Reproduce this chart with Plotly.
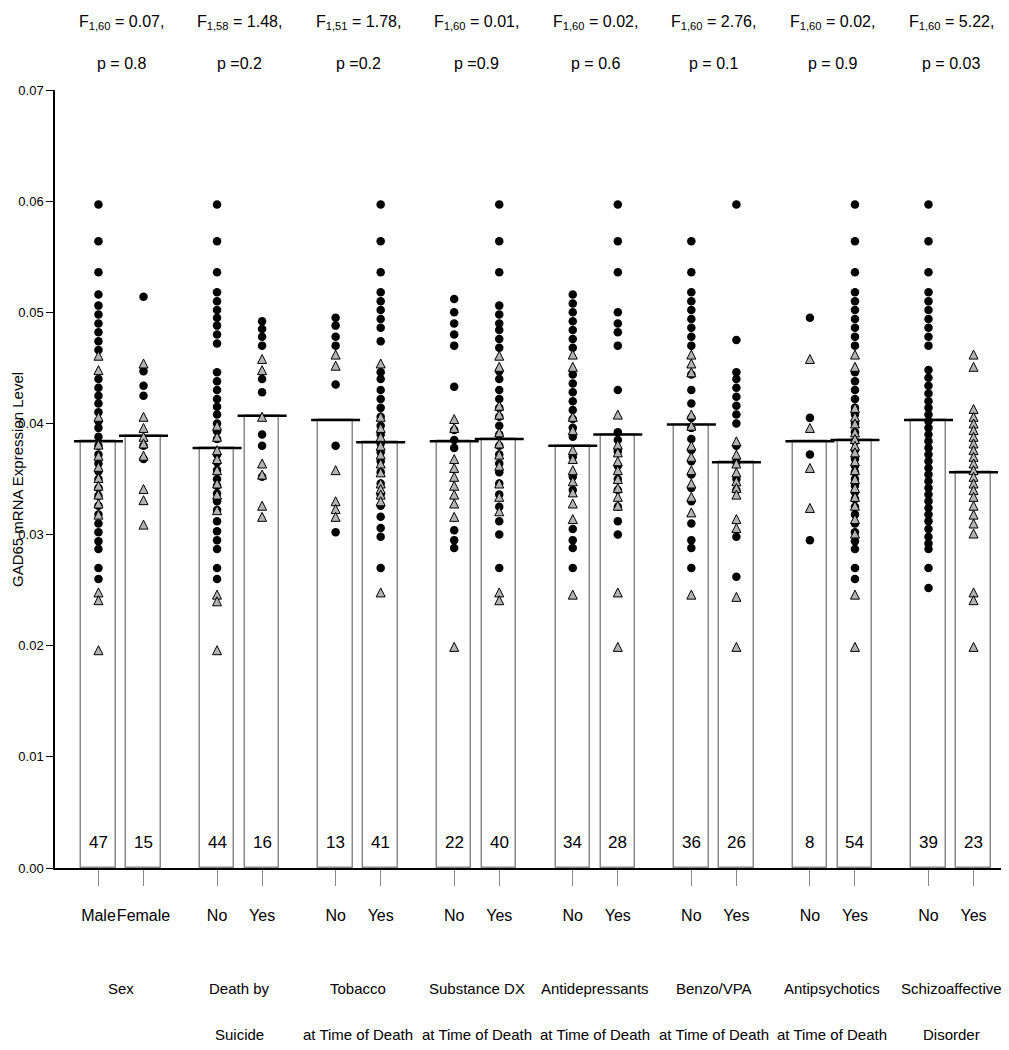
import plotly.graph_objects as go

# ---------------- data ----------------
group_titles = [("Sex", ""), ("Death by", "Suicide"), ("Tobacco", "at Time of Death"),
                ("Substance DX", "at Time of Death"), ("Antidepressants", "at Time of Death"),
                ("Benzo/VPA", "at Time of Death"), ("Antipsychotics", "at Time of Death"),
                ("Schizoaffective", "Disorder")]
level_labels = ["Male", "Female", "No", "Yes", "No", "Yes", "No", "Yes",
                "No", "Yes", "No", "Yes", "No", "Yes", "No", "Yes"]
f_labels = ["F<sub>1,60</sub> = 0.07,", "F<sub>1,58</sub> = 1.48,", "F<sub>1,51</sub> = 1.78,",
            "F<sub>1,60</sub> = 0.01,", "F<sub>1,60</sub> = 0.02,", "F<sub>1,60</sub> = 2.76,",
            "F<sub>1,60</sub> = 0.02,", "F<sub>1,60</sub> = 5.22,"]
p_labels = ["p = 0.8", "p =0.2", "p =0.2", "p =0.9", "p = 0.6", "p = 0.1", "p = 0.9", "p = 0.03"]
counts = [47, 15, 44, 16, 13, 41, 22, 40, 34, 28, 36, 26, 8, 54, 39, 23]
means = [0.0384, 0.0389, 0.0378, 0.0407, 0.0403, 0.0383, 0.0384, 0.0386,
         0.0380, 0.0390, 0.0399, 0.0365, 0.0384, 0.0385, 0.0403, 0.0356]

male_circ = [0.0597, 0.0564, 0.0536, 0.0516, 0.0506, 0.0498, 0.0490, 0.0482, 0.0474, 0.0466,
             0.0440, 0.0432, 0.0425, 0.0418, 0.0410, 0.0402, 0.0396, 0.0388, 0.0380, 0.0372,
             0.0364, 0.0357, 0.0350, 0.0342, 0.0335, 0.0326, 0.0318, 0.0310, 0.0302, 0.0294,
             0.0287, 0.0270, 0.0260]
male_tri = [0.0465, 0.0452, 0.0410, 0.0385, 0.0375, 0.0365, 0.0355, 0.0348, 0.0340, 0.0332,
            0.0322, 0.0252, 0.0245, 0.0200]
female_circ = [0.0514, 0.0447, 0.0434, 0.0425, 0.0380, 0.0368]
female_tri = [0.0458, 0.0410, 0.0400, 0.0392, 0.0386, 0.0375, 0.0345, 0.0335, 0.0313]

suicide_no_circ = [0.0597, 0.0564, 0.0536, 0.0518, 0.0510, 0.0502, 0.0495, 0.0488, 0.0480, 0.0472,
                   0.0446, 0.0438, 0.0430, 0.0422, 0.0415, 0.0408, 0.0400, 0.0393, 0.0386, 0.0372,
                   0.0365, 0.0358, 0.0350, 0.0344, 0.0337, 0.0330, 0.0322, 0.0312, 0.0303, 0.0295,
                   0.0287, 0.0270, 0.0260]
suicide_no_tri = [0.0402, 0.0392, 0.0380, 0.0372, 0.0362, 0.0350, 0.0340, 0.0326, 0.0250, 0.0244, 0.0200]
suicide_yes_circ = [0.0492, 0.0485, 0.0478, 0.0470, 0.0440, 0.0428, 0.0390, 0.0380, 0.0352]
suicide_yes_tri = [0.0462, 0.0452, 0.0410, 0.0368, 0.0358, 0.0330, 0.0320]

tob_no_circ = [0.0495, 0.0488, 0.0478, 0.0470, 0.0435, 0.0380, 0.0302]
tob_no_tri = [0.0466, 0.0456, 0.0362, 0.0334, 0.0327, 0.0320]
tob_yes_circ = [0.0597, 0.0564, 0.0536, 0.0518, 0.0510, 0.0502, 0.0494, 0.0486, 0.0474, 0.0446,
                0.0440, 0.0430, 0.0422, 0.0414, 0.0406, 0.0398, 0.0390, 0.0382, 0.0374, 0.0366,
                0.0356, 0.0346, 0.0336, 0.0326, 0.0316, 0.0306, 0.0298, 0.0270]
tob_yes_tri = [0.0458, 0.0410, 0.0400, 0.0392, 0.0384, 0.0376, 0.0368, 0.0360, 0.0350, 0.0345,
               0.0340, 0.0334, 0.0252]

sub_no_circ = [0.0512, 0.0500, 0.0490, 0.0480, 0.0470, 0.0433, 0.0394, 0.0385, 0.0378, 0.0304,
               0.0295, 0.0288]
sub_no_tri = [0.0408, 0.0400, 0.0372, 0.0364, 0.0356, 0.0348, 0.0340, 0.0332, 0.0320, 0.0203]
sub_yes_circ = [0.0597, 0.0564, 0.0536, 0.0506, 0.0498, 0.0490, 0.0484, 0.0476, 0.0468, 0.0447,
                0.0440, 0.0430, 0.0422, 0.0414, 0.0406, 0.0398, 0.0390, 0.0380, 0.0372, 0.0364,
                0.0356, 0.0346, 0.0336, 0.0325, 0.0312, 0.0300, 0.0270]
sub_yes_tri = [0.0465, 0.0455, 0.0420, 0.0412, 0.0396, 0.0386, 0.0376, 0.0366, 0.0350, 0.0338,
               0.0325, 0.0252, 0.0245]

ad_no_circ = [0.0516, 0.0508, 0.0500, 0.0492, 0.0484, 0.0476, 0.0468, 0.0444, 0.0436, 0.0428,
              0.0420, 0.0412, 0.0404, 0.0396, 0.0388, 0.0370, 0.0352, 0.0340, 0.0305, 0.0295,
              0.0288, 0.0270]
ad_no_tri = [0.0466, 0.0455, 0.0410, 0.0398, 0.0380, 0.0372, 0.0362, 0.0352, 0.0342, 0.0332,
             0.0318, 0.0250]
ad_yes_circ = [0.0597, 0.0564, 0.0536, 0.0500, 0.0490, 0.0482, 0.0470, 0.0430, 0.0392, 0.0385,
               0.0375, 0.0362, 0.0350, 0.0340, 0.0325, 0.0312, 0.0300]
ad_yes_tri = [0.0412, 0.0385, 0.0378, 0.0370, 0.0362, 0.0354, 0.0346, 0.0338, 0.0330, 0.0252, 0.0203]

bz_no_circ = [0.0564, 0.0536, 0.0518, 0.0510, 0.0502, 0.0494, 0.0486, 0.0478, 0.0470, 0.0444,
              0.0430, 0.0418, 0.0405, 0.0396, 0.0386, 0.0376, 0.0366, 0.0354, 0.0342, 0.0330,
              0.0310, 0.0295, 0.0288, 0.0270]
bz_no_tri = [0.0466, 0.0458, 0.0450, 0.0412, 0.0402, 0.0384, 0.0374, 0.0362, 0.0350, 0.0338,
             0.0324, 0.0250]
bz_yes_circ = [0.0597, 0.0475, 0.0446, 0.0440, 0.0432, 0.0424, 0.0416, 0.0408, 0.0400, 0.0380,
               0.0365, 0.0350, 0.0340, 0.0298, 0.0262]
bz_yes_tri = [0.0388, 0.0376, 0.0368, 0.0360, 0.0352, 0.0346, 0.0340, 0.0318, 0.0310, 0.0248, 0.0203]

ap_no_circ = [0.0495, 0.0405, 0.0372, 0.0295]
ap_no_tri = [0.0462, 0.0400, 0.0364, 0.0328]
ap_yes_circ = [0.0597, 0.0564, 0.0536, 0.0518, 0.0510, 0.0502, 0.0494, 0.0486, 0.0478, 0.0470,
               0.0446, 0.0438, 0.0430, 0.0422, 0.0414, 0.0408, 0.0400, 0.0392, 0.0384, 0.0376,
               0.0368, 0.0362, 0.0356, 0.0350, 0.0344, 0.0338, 0.0332, 0.0325, 0.0318, 0.0310,
               0.0302, 0.0294, 0.0287, 0.0270, 0.0260]
ap_yes_tri = [0.0466, 0.0455, 0.0418, 0.0410, 0.0404, 0.0396, 0.0390, 0.0384, 0.0378, 0.0370,
              0.0362, 0.0354, 0.0346, 0.0338, 0.0330, 0.0318, 0.0305, 0.0250, 0.0203]

sz_no_circ = [0.0597, 0.0564, 0.0536, 0.0518, 0.0510, 0.0502, 0.0494, 0.0486, 0.0478, 0.0470,
              0.0448, 0.0441, 0.0434, 0.0427, 0.0420, 0.0414, 0.0408, 0.0402, 0.0396, 0.0390,
              0.0384, 0.0378, 0.0372, 0.0366, 0.0360, 0.0354, 0.0348, 0.0342, 0.0336, 0.0330,
              0.0324, 0.0318, 0.0312, 0.0305, 0.0298, 0.0292, 0.0287, 0.0270, 0.0252]
sz_no_tri = []
sz_yes_circ = []
sz_yes_tri = [0.0466, 0.0455, 0.0417, 0.0410, 0.0404, 0.0398, 0.0392, 0.0386, 0.0380, 0.0374,
              0.0368, 0.0362, 0.0356, 0.0350, 0.0344, 0.0338, 0.0330, 0.0322, 0.0314, 0.0305,
              0.0252, 0.0245, 0.0203]

col_circ = [male_circ, female_circ, suicide_no_circ, suicide_yes_circ, tob_no_circ, tob_yes_circ,
            sub_no_circ, sub_yes_circ, ad_no_circ, ad_yes_circ, bz_no_circ, bz_yes_circ,
            ap_no_circ, ap_yes_circ, sz_no_circ, sz_yes_circ]
col_tri = [male_tri, female_tri, suicide_no_tri, suicide_yes_tri, tob_no_tri, tob_yes_tri,
           sub_no_tri, sub_yes_tri, ad_no_tri, ad_yes_tri, bz_no_tri, bz_yes_tri,
           ap_no_tri, ap_yes_tri, sz_no_tri, sz_yes_tri]

# ---------------- layout helpers ----------------
FONT = "Liberation Sans, Arial, sans-serif"
OFF = 0.19
xpos = []
for g in range(len(group_titles)):
    xpos += [g - OFF, g + OFF]

BODY = 8  # default page margin around the plot div
PLOT_LEFT, PLOT_RIGHT = 55, 1009
PLOT_TOP, PLOT_BOT = 90, 868
FIG_W, FIG_H = 1009 - BODY, 1050 - BODY
H = PLOT_BOT - PLOT_TOP
W = PLOT_RIGHT - PLOT_LEFT


def py(pix):
    return (PLOT_BOT - pix) / H


def px(pix):
    return (pix - PLOT_LEFT) / W


def txt(size):
    return dict(size=size, family=FONT, color="black")


fig = go.Figure()

fig.add_trace(go.Bar(x=xpos, y=means, width=0.29,
                     marker=dict(color="white", line=dict(color="#8a8a8a", width=1.5)),
                     hoverinfo="skip"))

fig.add_trace(go.Scatter(x=xpos, y=means, mode="markers",
                         marker=dict(symbol="line-ew", size=35,
                                     line=dict(color="black", width=2.5)),
                         hoverinfo="skip"))

cx, cy, tx, ty = [], [], [], []
for x, vals in zip(xpos, col_circ):
    cx += [x] * len(vals)
    cy += vals
for x, vals in zip(xpos, col_tri):
    tx += [x] * len(vals)
    ty += vals

fig.add_trace(go.Scatter(x=cx, y=cy, mode="markers",
                         marker=dict(symbol="circle", size=8.5, color="black"),
                         hoverinfo="skip"))
fig.add_trace(go.Scatter(x=tx, y=ty, mode="markers",
                         marker=dict(symbol="arrow-up", size=9, color="#b3b3b3",
                                     line=dict(color="black", width=1)),
                         hoverinfo="skip"))

ann = []
for x, n in zip(xpos, counts):
    ann.append(dict(x=x, y=0, xref="x", yref="y", text=str(n), showarrow=False,
                    yanchor="bottom", yshift=14, font=txt(17)))
for g, (l1, l2) in enumerate(group_titles):
    ann.append(dict(x=g, y=py(988), xref="x", yref="paper", text=l1, showarrow=False,
                    yanchor="middle", font=txt(15)))
    if l2:
        ann.append(dict(x=g, y=py(1034), xref="x", yref="paper", text=l2, showarrow=False,
                        yanchor="middle", font=txt(15)))
    ann.append(dict(x=g, y=py(23), xref="x", yref="paper", text=f_labels[g], showarrow=False,
                    yanchor="middle", font=txt(16)))
    ann.append(dict(x=g, y=py(63), xref="x", yref="paper", text=p_labels[g], showarrow=False,
                    yanchor="middle", font=txt(16)))

ann.append(dict(x=px(18), xref="paper", y=py(480), yref="paper",
                text="GAD65 mRNA Expression Level",
                textangle=-90, showarrow=False, xanchor="center", yanchor="middle",
                font=txt(15)))

fig.update_layout(
    width=FIG_W, height=FIG_H,
    margin=dict(l=PLOT_LEFT - BODY, r=FIG_W + BODY - PLOT_RIGHT, t=PLOT_TOP - BODY,
                b=FIG_H + BODY - PLOT_BOT, pad=0),
    paper_bgcolor="white", plot_bgcolor="white",
    showlegend=False, bargap=0,
    annotations=ann,
    xaxis=dict(range=[-0.5566, 7.489], tickvals=xpos, ticktext=level_labels,
               tickfont=txt(16), ticklabelstandoff=16, tickangle=0,
               ticks="outside", ticklen=16, tickcolor="#8a8a8a", tickwidth=1,
               showline=True, linecolor="black", linewidth=2, showgrid=False, zeroline=False),
    yaxis=dict(range=[0, 0.07], tickvals=[0, 0.01, 0.02, 0.03, 0.04, 0.05, 0.06, 0.07],
               tickformat=".2f", ticks="outside", ticklen=7, tickcolor="black", tickwidth=1,
               showline=True, linecolor="black", linewidth=1.5, showgrid=False, zeroline=False,
               tickfont=txt(13)),
)

fig.write_html("out.html")
